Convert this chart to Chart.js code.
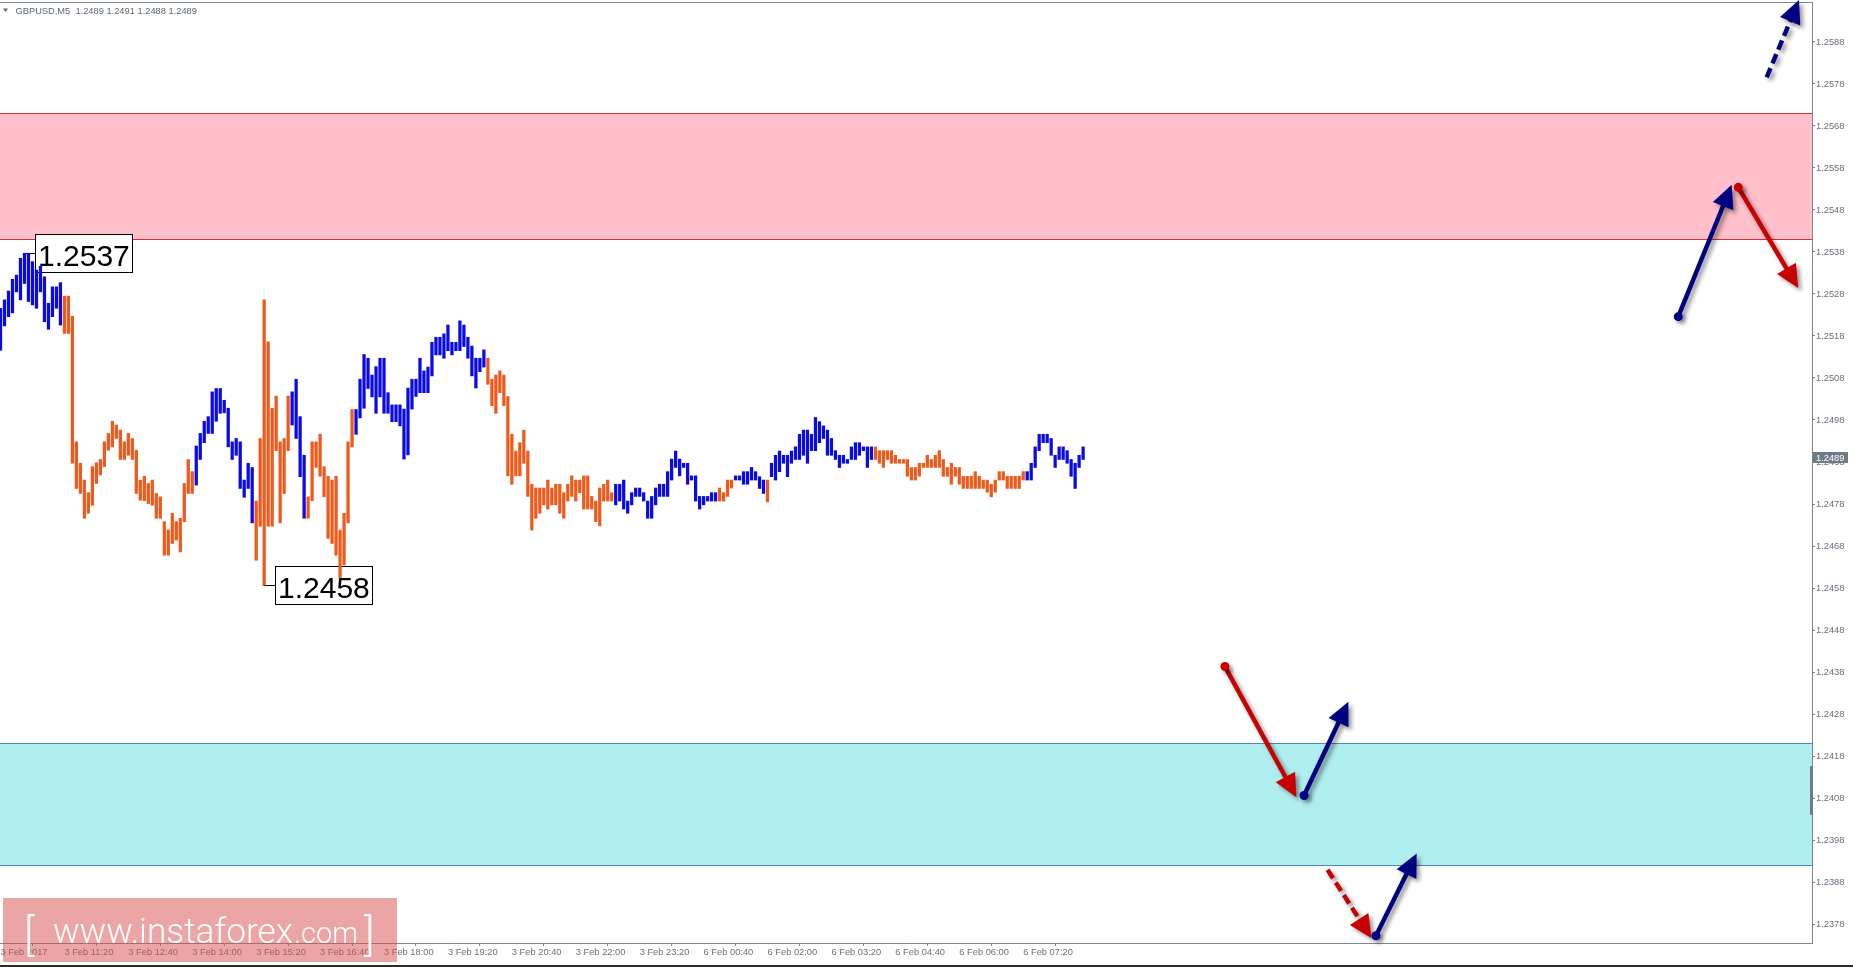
<!DOCTYPE html>
<html>
<head>
<meta charset="utf-8">
<script src="https://cdn.jsdelivr.net/npm/chart.js@4.4.1/dist/chart.umd.min.js"></script>
<style>
html,body{margin:0;padding:0;background:#fff;overflow:hidden}
#wrap{width:1853px;height:967px;position:relative}
</style>
</head>
<body>
<div id="wrap"><canvas id="c" width="1853" height="967"></canvas></div>
<script>
// ---------------- DATA ----------------
const symbolName = "GBPUSD,M5";
const headerOHLC = [1.2489, 1.2491, 1.2488, 1.2489];
const lastPrice = 1.2489;

const highs = [
1.25246,1.25266,1.25287,1.25315,1.25325,1.25365,1.25377,1.25377,1.25357,1.25337,
1.25346,1.25321,1.25258,1.25297,1.25297,1.25307,1.25275,1.25275,1.25227,1.24928,
1.24877,1.24837,1.24807,1.24869,1.24878,1.24886,1.24928,1.24948,1.24977,1.24968,
1.24956,1.24928,1.24948,1.24936,1.24908,1.24837,1.24846,1.24829,1.24837,1.24805,
1.24797,1.24738,1.24718,1.24758,1.24738,1.24746,1.24829,1.24886,1.24857,1.24918,
1.24948,1.24977,1.24988,1.25047,1.25055,1.25055,1.25027,1.25008,1.24928,1.24936,
1.24928,1.24837,1.24877,1.24867,1.24787,1.24936,1.25266,1.25166,1.25008,1.25037,
1.24928,1.24936,1.25037,1.25047,1.25077,1.24988,1.24896,1.24797,1.24928,1.24928,
1.24946,1.24869,1.24846,1.24837,1.24846,1.24718,1.24758,1.24928,1.25005,1.25005,
1.25077,1.25136,1.25127,1.25087,1.25107,1.25127,1.25127,1.25045,1.25016,1.25016,
1.25016,1.25006,1.25056,1.25077,1.25077,1.25127,1.25097,1.25106,1.25165,1.25177,
1.25177,1.25185,1.25206,1.25165,1.25165,1.25216,1.25206,1.25177,1.25156,1.25127,
1.25127,1.25147,1.25127,1.25077,1.25087,1.25097,1.25087,1.25036,1.24946,1.24906,
1.24926,1.24956,1.24906,1.24827,1.24818,1.24818,1.24818,1.24837,1.24818,1.24827,
1.24827,1.24807,1.24827,1.24847,1.24837,1.24837,1.24847,1.24847,1.24798,1.24787,
1.24818,1.24827,1.24837,1.24807,1.24827,1.24827,1.24837,1.24787,1.24807,1.24818,
1.24818,1.24807,1.24787,1.24798,1.24818,1.24827,1.24827,1.24857,1.24887,1.24906,
1.24887,1.24877,1.24877,1.24847,1.24847,1.24798,1.24798,1.24798,1.24807,1.24807,
1.24818,1.24807,1.24837,1.24837,1.24847,1.24847,1.24857,1.24857,1.24867,1.24857,
1.24845,1.24837,1.24837,1.24877,1.24896,1.24906,1.24896,1.24896,1.24906,1.24916,
1.24946,1.24956,1.24956,1.24946,1.24986,1.24976,1.24966,1.24956,1.24936,1.24907,
1.24896,1.24896,1.24886,1.24916,1.24926,1.24926,1.24916,1.24916,1.24916,1.24916,
1.24907,1.24907,1.24907,1.24907,1.24896,1.24886,1.24886,1.24886,1.24867,1.24867,
1.24877,1.24877,1.24896,1.24886,1.24896,1.24907,1.24886,1.24867,1.24877,1.24867,
1.24867,1.24846,1.24846,1.24846,1.24857,1.24846,1.24837,1.24837,1.24827,1.24837,
1.24857,1.24857,1.24846,1.24846,1.24846,1.24846,1.24857,1.24857,1.24877,1.24916,
1.24946,1.24946,1.24946,1.24936,1.24896,1.24916,1.24916,1.24907,1.24886,1.24877,
1.24896,1.24916];

const lows = [
1.25146,1.25204,1.25226,1.25235,1.25285,1.25266,1.25305,1.25262,1.25254,1.25246,
1.25285,1.25214,1.25196,1.25226,1.25246,1.25206,1.25186,1.25186,1.24877,1.24817,
1.24805,1.24746,1.24758,1.24777,1.24829,1.24849,1.24869,1.24908,1.24916,1.24936,
1.24886,1.24886,1.24896,1.24886,1.24805,1.24789,1.24788,1.24781,1.24777,1.24746,
1.24746,1.24658,1.24658,1.24686,1.24694,1.24666,1.24738,1.24805,1.24805,1.24825,
1.24886,1.24926,1.24948,1.24948,1.24977,1.24996,1.24997,1.24916,1.24886,1.24896,
1.24817,1.24796,1.24817,1.24735,1.24646,1.24727,1.24587,1.24727,1.24727,1.24907,
1.24735,1.24805,1.24907,1.24968,1.24936,1.24845,1.24746,1.24746,1.24788,1.24867,
1.24846,1.24797,1.24698,1.24686,1.24658,1.24605,1.24635,1.24735,1.24916,1.24946,
1.24985,1.25008,1.25055,1.25035,1.24996,1.25035,1.24996,1.24996,1.24976,1.24976,
1.24966,1.24887,1.24897,1.25006,1.25036,1.25045,1.25045,1.25045,1.25085,1.25135,
1.25135,1.25127,1.25145,1.25135,1.25145,1.25145,1.25155,1.25127,1.25085,1.25056,
1.25095,1.25106,1.25065,1.25014,1.24996,1.25045,1.25014,1.24847,1.24827,1.24847,
1.24847,1.24877,1.24798,1.24718,1.24746,1.24758,1.24778,1.24768,1.24778,1.24778,
1.24758,1.24746,1.24787,1.24798,1.24787,1.24807,1.24768,1.24768,1.24768,1.24738,
1.24728,1.24787,1.24787,1.24787,1.24778,1.24787,1.24768,1.24758,1.24778,1.24798,
1.24798,1.24787,1.24746,1.24746,1.24778,1.24798,1.24798,1.24798,1.24837,1.24867,
1.24847,1.24867,1.24827,1.24837,1.24787,1.24768,1.24778,1.24787,1.24787,1.24787,
1.24787,1.24787,1.24798,1.24818,1.24837,1.24837,1.24827,1.24827,1.24837,1.24837,
1.24817,1.24805,1.24785,1.24845,1.24837,1.24857,1.24877,1.24845,1.24877,1.24886,
1.24886,1.24896,1.24877,1.24907,1.24907,1.24926,1.24936,1.24896,1.24896,1.24886,
1.24867,1.24877,1.24877,1.24886,1.24886,1.24896,1.24907,1.24867,1.24886,1.24886,
1.24877,1.24867,1.24886,1.24877,1.24877,1.24877,1.24877,1.24846,1.24837,1.24837,
1.24846,1.24867,1.24867,1.24867,1.24867,1.24867,1.24846,1.24846,1.24827,1.24846,
1.24827,1.24817,1.24817,1.24817,1.24817,1.24817,1.24817,1.24808,1.24797,1.24808,
1.24837,1.24837,1.24817,1.24817,1.24817,1.24817,1.24837,1.24837,1.24837,1.24867,
1.24907,1.24926,1.24926,1.24896,1.24867,1.24886,1.24886,1.24877,1.24846,1.24817,
1.24867,1.24886];

// bar colour runs: 'u' = blue (up-swing), 'd' = orange (down-swing)
const trendRuns = [['u',16],['d',33],['u',15],['d',9],['u',4],['d',12],['u',33],['d',32],
                   ['u',26],['d',4],['u',8],['d',1],['u',26],['d',38],['u',15]];

const xTickIndex  = [0,16,32,48,64,80,96,112,128,144,160,176,192,208,224,240,256];
const xTickLabels = ["3 Feb 2017","3 Feb 11:20","3 Feb 12:40","3 Feb 14:00","3 Feb 15:20","3 Feb 16:40",
  "3 Feb 18:00","3 Feb 19:20","3 Feb 20:40","3 Feb 22:00","3 Feb 23:20","6 Feb 00:40","6 Feb 02:00",
  "6 Feb 03:20","6 Feb 04:40","6 Feb 06:00","6 Feb 07:20"];
const yTickValues = [1.2378,1.2388,1.2398,1.2408,1.2418,1.2428,1.2438,1.2448,1.2458,1.2468,1.2478,
  1.2488,1.2498,1.2508,1.2518,1.2528,1.2538,1.2548,1.2558,1.2568,1.2578,1.2588];

const resistanceZone = [1.2541, 1.2571];
const supportZone    = [1.2392, 1.2421];
const extremes = [{bar: 6, kind: 'high', value: 1.2537}, {bar: 66, kind: 'low', value: 1.2458}];

// forecast arrows: [barIndex, price] from -> to
const arrows = [
  {from:[442.1,1.25796], to:[450.2,1.25980], side:'up',   dashed:true,  dot:false},
  {from:[419.97,1.25226],to:[433.35,1.25540],side:'up',   dashed:false, dot:true},
  {from:[435.0,1.25534], to:[450.0,1.25294], side:'down', dashed:false, dot:true},
  {from:[306.5,1.24393], to:[324.4,1.24082], side:'down', dashed:false, dot:true},
  {from:[326.3,1.24086], to:[337.4,1.24309], side:'up',   dashed:false, dot:true},
  {from:[332.2,1.23909], to:[343.2,1.23746], side:'down', dashed:true,  dot:false},
  {from:[344.3,1.23752], to:[354.5,1.23948], side:'up',   dashed:false, dot:true}
];
const axisMarker = [1.2404, 1.24156];
const watermark = ["[", "www.instaforex", ".com", "]"];

// ---------------- STYLE ----------------
const BLUE = '#0a0ae4', ORANGE = '#ee5a1c';
const NAVY = '#000080', RED = '#c80000';
const AXIS = '#7d8791', TXT = '#66707b';
const FONT = '"Liberation Sans", Arial, sans-serif';

const trend = [];
trendRuns.forEach(([t, n]) => { for (let k = 0; k < n; k++) trend.push(t); });

const barData = highs.map((h, i) => ({x: i, y: [lows[i], h]}));

function drawArrow(ctx, x1, y1, x2, y2, color, dashed, dot) {
  const ang = Math.atan2(y2 - y1, x2 - x1);
  const headLen = 23, headW = 11;
  const c = Math.cos(ang), s = Math.sin(ang);
  const bx = x2 - headLen * c, by = y2 - headLen * s;
  ctx.save();
  ctx.shadowColor = 'rgba(0,0,0,0.42)';
  ctx.shadowBlur = 4; ctx.shadowOffsetX = 3; ctx.shadowOffsetY = 3;
  ctx.strokeStyle = color; ctx.fillStyle = color;
  ctx.lineWidth = 4.5; ctx.lineCap = 'butt';
  ctx.setLineDash(dashed ? [10, 5] : []);
  ctx.beginPath(); ctx.moveTo(x1, y1); ctx.lineTo(bx + 2 * c, by + 2 * s); ctx.stroke();
  ctx.setLineDash([]);
  ctx.beginPath();
  ctx.moveTo(x2, y2);
  ctx.lineTo(bx - headW * s, by + headW * c);
  ctx.lineTo(bx + headW * s, by - headW * c);
  ctx.closePath(); ctx.fill();
  if (dot) { ctx.beginPath(); ctx.arc(x1, y1, 4.5, 0, Math.PI * 2); ctx.fill(); }
  ctx.restore();
}

const overlay = {
  id: 'overlay',
  beforeDatasetsDraw(chart) {
    const {ctx, chartArea: a, scales: {x, y}} = chart;
    ctx.save();
    // zones
    [[resistanceZone, '#ffc0cb', '#d83030'], [supportZone, '#afeeee', '#4a88c4']].forEach(([z, fill, line]) => {
      const yt = Math.round(y.getPixelForValue(z[1])), yb = Math.round(y.getPixelForValue(z[0]));
      ctx.fillStyle = fill;
      ctx.fillRect(a.left, yt, a.right - a.left, yb - yt);
      ctx.strokeStyle = line; ctx.lineWidth = 1;
      ctx.beginPath();
      ctx.moveTo(a.left, yt + 0.5); ctx.lineTo(a.right, yt + 0.5);
      ctx.moveTo(a.left, yb + 0.5); ctx.lineTo(a.right, yb + 0.5);
      ctx.stroke();
    });
    // extreme labels
    ctx.font = '30px ' + FONT;
    extremes.forEach(e => {
      const xp = x.getPixelForValue(e.bar);
      const yp = Math.round(y.getPixelForValue(e.kind === 'high' ? highs[e.bar] : lows[e.bar]));
      const txt = e.value.toFixed(4);
      const tw = ctx.measureText(txt).width;
      const bw = Math.round(tw + 5), bh = 38;
      const bx = Math.round(xp + 11) + 0.5, by = yp - 19 + 0.5;
      ctx.fillStyle = '#fff'; ctx.fillRect(bx, by, bw, bh);
      ctx.strokeStyle = '#000'; ctx.lineWidth = 1; ctx.strokeRect(bx, by, bw, bh);
      ctx.beginPath(); ctx.moveTo(xp - 1, yp + 0.5); ctx.lineTo(bx, yp + 0.5); ctx.stroke();
      ctx.fillStyle = '#000'; ctx.textBaseline = 'alphabetic'; ctx.textAlign = 'left';
      ctx.fillText(txt, bx + 2.5, by + 31);
    });
    ctx.restore();
  },
  afterDraw(chart) {
    const {ctx, chartArea: a, scales: {x, y}} = chart;
    ctx.save();
    // top border
    ctx.strokeStyle = AXIS; ctx.lineWidth = 1;
    ctx.beginPath(); ctx.moveTo(0, 2.5); ctx.lineTo(a.right, 2.5); ctx.stroke();
    // window bottom line
    ctx.fillStyle = '#2a2a2a'; ctx.fillRect(0, 965, 1853, 2);
    // axis marker
    const m1 = y.getPixelForValue(axisMarker[1]), m0 = y.getPixelForValue(axisMarker[0]);
    ctx.fillStyle = '#6f7b88'; ctx.fillRect(a.right - 2, m1, 3, m0 - m1);
    // arrows
    arrows.forEach(ar => {
      drawArrow(ctx, x.getPixelForValue(ar.from[0]), y.getPixelForValue(ar.from[1]),
                x.getPixelForValue(ar.to[0]), y.getPixelForValue(ar.to[1]),
                ar.side === 'up' ? NAVY : RED, ar.dashed, ar.dot);
    });
    // header
    ctx.fillStyle = '#5d6570';
    ctx.beginPath(); ctx.moveTo(3, 8.5); ctx.lineTo(8, 8.5); ctx.lineTo(5.5, 12); ctx.closePath(); ctx.fill();
    ctx.font = '9.3px ' + FONT; ctx.textBaseline = 'alphabetic'; ctx.textAlign = 'left';
    ctx.fillText(symbolName + '  ' + headerOHLC.map(v => v.toFixed(4)).join(' '), 15.5, 14);
    // current price label
    const yp = y.getPixelForValue(lastPrice);
    ctx.fillStyle = '#6f7b88';
    ctx.fillRect(a.right + 1, Math.round(yp - 5.5), 35, 11);
    ctx.fillStyle = '#fff'; ctx.font = '9.3px ' + FONT; ctx.textBaseline = 'middle';
    ctx.fillText(lastPrice.toFixed(4), a.right + 4, yp + 0.5);
    // watermark
    ctx.fillStyle = 'rgba(216,76,76,0.5)';
    ctx.fillRect(3, 898, 394, 64);
    ctx.fillStyle = '#fff'; ctx.textBaseline = 'alphabetic';
    ctx.font = '300 44px Roboto, "Open Sans", sans-serif';
    ctx.fillText(watermark[0], 24, 950);
    let fs = 40;
    ctx.font = '300 ' + fs + 'px Roboto, "Open Sans", sans-serif';
    fs = fs * 240 / ctx.measureText(watermark[1]).width;
    ctx.font = '300 ' + fs + 'px Roboto, "Open Sans", sans-serif';
    ctx.fillText(watermark[1], 53, 943);
    let fs2 = 30;
    ctx.font = '300 ' + fs2 + 'px Roboto, "Open Sans", sans-serif';
    fs2 = fs2 * 64 / ctx.measureText(watermark[2]).width;
    ctx.font = '300 ' + fs2 + 'px Roboto, "Open Sans", sans-serif';
    ctx.fillText(watermark[2], 294, 943);
    ctx.font = '300 44px Roboto, "Open Sans", sans-serif';
    ctx.fillText(watermark[3], 364, 950);
    ctx.restore();
  }
};

function noPad(s) { s.paddingTop = 0; s.paddingBottom = 0; s.paddingLeft = 0; s.paddingRight = 0; }

new Chart(document.getElementById('c'), {
  type: 'bar',
  data: {
    datasets: [{
      data: barData,
      backgroundColor: trend.map(t => t === 'u' ? BLUE : ORANGE),
      borderWidth: 0,
      barThickness: 2.6,
      grouped: false
    }]
  },
  options: {
    responsive: false,
    animation: false,
    devicePixelRatio: 1,
    events: [],
    layout: {padding: {top: 2, left: 0, right: 0, bottom: 0}},
    plugins: {legend: {display: false}, tooltip: {enabled: false}, title: {display: false}},
    scales: {
      x: {
        type: 'linear',
        min: -0.125, max: 453.45,
        offset: false,
        grid: {drawOnChartArea: false, drawTicks: true, tickLength: 3, color: AXIS},
        border: {display: true, color: AXIS},
        afterBuildTicks: s => { s.ticks = xTickIndex.map(v => ({value: v})); },
        afterFit: s => { s.height = 24; noPad(s); },
        ticks: {
          autoSkip: false, maxRotation: 0, minRotation: 0, align: 'start', padding: 1,
          color: TXT, font: {family: FONT, size: 9.3},
          callback: v => { const k = xTickIndex.indexOf(v); return k >= 0 ? xTickLabels[k] : ''; }
        }
      },
      y: {
        position: 'right',
        min: 1.237348, max: 1.259752,
        grid: {drawOnChartArea: false, drawTicks: true, tickLength: 3, color: AXIS},
        border: {display: true, color: AXIS},
        afterBuildTicks: s => { s.ticks = yTickValues.map(v => ({value: v})); },
        afterFit: s => { s.width = 41; noPad(s); },
        ticks: {
          autoSkip: false, padding: 1, color: TXT, font: {family: FONT, size: 9.3},
          callback: v => v.toFixed(4)
        }
      }
    }
  },
  plugins: [overlay]
});
</script>
</body>
</html>
